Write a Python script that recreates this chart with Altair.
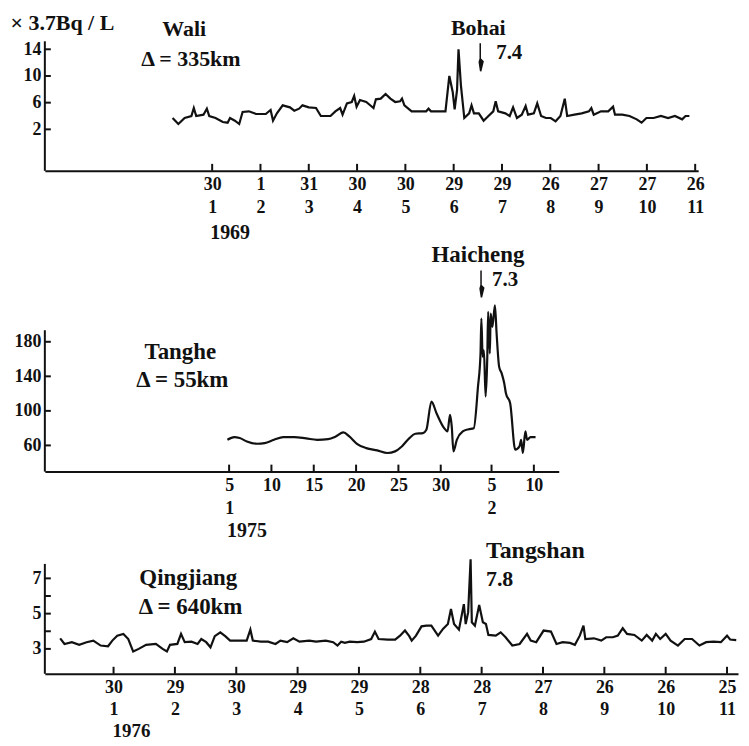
import altair as alt
import pandas as pd

FONT = "Liberation Serif"
BLACK = "#111111"

# ---------------- Panel 1: Wali, 1969 (x in month-tick units) ----------------
wali_x = [0.18, 0.30, 0.43, 0.57, 0.62, 0.67, 0.82, 0.89, 0.94, 1.07,
          1.22, 1.32, 1.37, 1.47, 1.56, 1.63, 1.76, 1.91, 2.11, 2.21,
          2.26, 2.34, 2.46, 2.61, 2.70, 2.80, 2.87, 3.00, 3.15, 3.25,
          3.45, 3.55, 3.65, 3.70, 3.79, 3.89, 3.94, 3.99, 4.06, 4.19,
          4.29, 4.34, 4.39, 4.49, 4.59, 4.69, 4.79, 4.89, 4.93, 4.98,
          5.13, 5.43, 5.48, 5.53, 5.83, 5.91, 5.98, 6.02, 6.07, 6.10,
          6.15, 6.22, 6.32, 6.37, 6.42, 6.52, 6.62, 6.72, 6.82, 6.87,
          6.92, 7.07, 7.16, 7.23, 7.31, 7.41, 7.49, 7.54, 7.66, 7.73,
          7.81, 7.91, 8.01, 8.11, 8.21, 8.30, 8.35, 8.50, 8.65, 8.80,
          8.85, 8.90, 9.05, 9.20, 9.30, 9.34, 9.49, 9.64, 9.79, 9.89,
          9.99, 10.14, 10.29, 10.44, 10.58, 10.73, 10.80, 10.88]
wali_v = [3.7, 2.8, 3.7, 4.0, 5.2, 4.0, 4.2, 5.1, 4.0, 3.7,
          3.1, 3.0, 3.7, 3.3, 2.8, 4.6, 4.7, 4.3, 4.3, 4.9,
          3.3, 4.4, 5.6, 5.3, 4.8, 5.1, 5.6, 5.3, 5.2, 4.0,
          4.0, 4.7, 5.2, 4.2, 5.9, 6.1, 7.0, 5.4, 6.4, 6.1,
          5.5, 5.2, 6.5, 6.6, 7.3, 6.6, 6.1, 6.2, 6.6, 5.6,
          4.7, 4.7, 5.1, 4.7, 4.7, 10.0, 7.6, 5.0, 7.9, 14.0,
          8.6, 3.7, 4.4, 5.6, 4.4, 4.4, 3.3, 4.0, 4.7, 6.2,
          4.7, 4.4, 4.0, 5.3, 3.7, 4.2, 5.5, 4.2, 4.4, 5.9,
          4.0, 3.7, 3.7, 3.2, 4.0, 6.6, 4.0, 4.2, 4.4, 4.7,
          5.2, 4.2, 4.7, 4.7, 5.4, 4.2, 4.2, 4.0, 3.5, 3.0,
          3.7, 3.7, 4.0, 3.7, 4.0, 3.5, 4.0, 4.0]
wali_ticks = [1, 2, 3, 4, 5, 6, 7, 8, 9, 10, 11]
wali_day = ["30", "1", "31", "30", "30", "29", "29", "26", "27", "27", "26"]
wali_month = ["1", "2", "3", "4", "5", "6", "7", "8", "9", "10", "11"]
wali_yticks = [2, 6, 10, 14]

# ---------------- Panel 2: Tanghe, 1975 (x in days from 1 Jan) ----------------
tanghe_x = [4.8, 5.6, 6.25, 7.1, 8.3, 9.2, 10.3, 11.4, 12.7, 14.1,
            15.4, 16.7, 17.6, 18.5, 19.2, 20.1, 21.2, 22.5, 23.7, 24.6,
            25.4, 26.3, 27.0, 27.9, 28.3, 28.9, 29.5, 30.4, 30.8, 31.1,
            31.3, 31.5, 31.9, 32.6, 33.3, 33.9, 34.4, 34.7, 34.8, 34.95,
            35.1, 35.3, 35.5, 35.6, 35.8, 35.9, 36.1, 36.4, 36.6, 36.9,
            37.2, 37.5, 37.7, 38.2, 38.8, 39.3, 39.5, 39.7, 40.0, 40.2,
            40.6, 41.2]
tanghe_v = [66.5, 69.6, 68.5, 64.6, 61.9, 62.7, 66.5, 69.6, 69.6, 68.1,
            66.5, 67.3, 70.4, 75.0, 70.4, 61.9, 56.9, 54.2, 51.2, 53.1,
            58.8, 68.5, 73.5, 74.2, 78.0, 110.8, 97.3, 80.0, 76.2, 95.4,
            82.0, 53.1, 66.5, 76.2, 78.8, 80.0, 128.0, 166.5, 206.9, 162.7,
            170.0, 116.5, 162.7, 214.6, 166.5, 212.7, 197.3, 222.3, 189.6, 151.0,
            143.5, 132.0, 120.4, 108.8, 55.0, 58.8, 66.5, 51.2, 76.2, 66.5,
            69.6, 69.6]
tanghe_ticks = [5, 10, 15, 20, 25, 30, 36, 41]
tanghe_day = ["5", "10", "15", "20", "25", "30", "5", "10"]
tanghe_month = ["1", "", "", "", "", "", "2", ""]
tanghe_yticks = [60, 100, 140, 180]

# ---------------- Panel 3: Qingjiang, 1976 (x in month-tick units) ----------------
qing_x = [0.13, 0.20, 0.32, 0.44, 0.56, 0.67, 0.79, 0.91, 0.98, 1.06,
          1.16, 1.24, 1.32, 1.41, 1.53, 1.69, 1.80, 1.87, 1.92, 2.04,
          2.10, 2.16, 2.27, 2.37, 2.43, 2.51, 2.58, 2.65, 2.74, 2.82,
          2.90, 3.05, 3.17, 3.23, 3.27, 3.40, 3.52, 3.64, 3.72, 3.83,
          3.93, 4.03, 4.19, 4.30, 4.46, 4.58, 4.65, 4.71, 4.77, 4.85,
          4.97, 5.08, 5.20, 5.26, 5.32, 5.47, 5.59, 5.67, 5.75, 5.82,
          5.86, 5.93, 6.02, 6.10, 6.18, 6.29, 6.37, 6.45, 6.50, 6.55,
          6.63, 6.71, 6.74, 6.78, 6.82, 6.84, 6.89, 6.96, 7.02, 7.07,
          7.11, 7.23, 7.31, 7.39, 7.50, 7.62, 7.74, 7.80, 7.89, 8.01,
          8.13, 8.22, 8.32, 8.44, 8.52, 8.60, 8.66, 8.69, 8.83, 8.95,
          9.03, 9.14, 9.22, 9.30, 9.37, 9.49, 9.61, 9.69, 9.78, 9.84,
          9.91, 10.00, 10.08, 10.20, 10.31, 10.43, 10.55, 10.66, 10.78, 10.90,
          11.00, 11.05, 11.15]
qing_v = [3.60, 3.28, 3.38, 3.23, 3.38, 3.47, 3.19, 3.15, 3.47, 3.75,
          3.85, 3.56, 2.85, 3.00, 3.23, 3.28, 3.00, 2.85, 3.23, 3.28,
          3.85, 3.38, 3.41, 3.28, 3.56, 3.38, 3.09, 3.72, 3.94, 3.72,
          3.47, 3.47, 3.47, 4.09, 3.47, 3.41, 3.41, 3.28, 3.47, 3.38,
          3.60, 3.41, 3.47, 3.41, 3.47, 3.38, 3.19, 3.41, 3.34, 3.41,
          3.38, 3.41, 3.56, 3.98, 3.56, 3.53, 3.53, 3.75, 4.04, 3.72,
          3.47, 3.75, 4.28, 4.32, 4.32, 3.75, 4.13, 4.41, 5.26, 4.41,
          4.09, 5.54, 4.41, 5.07, 8.08, 4.51, 4.32, 5.49, 4.51, 4.41,
          3.79, 3.75, 3.94, 3.66, 3.19, 3.28, 3.85, 3.47, 3.38, 4.04,
          3.98, 3.28, 3.38, 3.34, 3.23, 3.75, 4.32, 3.56, 3.60, 3.47,
          3.66, 3.66, 3.75, 4.17, 3.85, 3.79, 3.47, 3.79, 3.47, 3.85,
          3.56, 3.85, 3.47, 3.19, 3.56, 3.56, 3.19, 3.38, 3.41, 3.38,
          3.75, 3.53, 3.50]
qing_ticks = [1, 2, 3, 4, 5, 6, 7, 8, 9, 10, 11]
qing_day = ["30", "29", "30", "29", "29", "28", "28", "27", "26", "26", "25"]
qing_month = ["1", "2", "3", "4", "5", "6", "7", "8", "9", "10", "11"]
qing_yticks = [3, 4, 5, 6, 7]
qing_ylabels = [3, 5, 7]

ARROW = "M0,-1L0,0.25M0,0.1L0.2,0.3L0.03,1L-0.07,0.35Z"


def label_expr(vals, r1, r2):
    parts = []
    for v, a, b in zip(vals, r1, r2):
        if b:
            parts.append(f"datum.value == {v} ? ['{a}', '{b}']")
        else:
            parts.append(f"datum.value == {v} ? '{a}'")
    return " : ".join(parts) + " : ''"


def text_layer(text, x, y, xs, ys, size, align="center"):
    d = pd.DataFrame({"x": [x], "y": [y], "t": [text]})
    return alt.Chart(d).mark_text(
        font=FONT, fontWeight="bold", fontSize=size, align=align,
        baseline="middle", color=BLACK
    ).encode(x=alt.X("x:Q", scale=xs),
             y=alt.Y("y:Q", scale=ys),
             text="t:N")


def arrow_layer(x, y, xs, ys, length):
    d = pd.DataFrame({"x": [x], "y": [y]})
    return alt.Chart(d).mark_point(
        shape=ARROW, size=length * length, filled=True, fill=BLACK,
        stroke=BLACK, strokeWidth=1.5, opacity=1
    ).encode(x=alt.X("x:Q", scale=xs),
             y=alt.Y("y:Q", scale=ys))


def panel(xv, yv, xdom, ydom, W, H, xticks, r1, r2, yticks, ylabels,
          ytop, year, year_y, year_size=20, lh=23, interp="linear", title="",
          extra=()):
    xs = alt.Scale(domain=xdom, nice=False, zero=False)
    ys = alt.Scale(domain=ydom, nice=False, zero=False)
    df = pd.DataFrame({"x": xv, "v": yv})
    yaxis_kw = dict(values=ylabels, labelFont=FONT, labelFontSize=18,
                    labelFontWeight="bold", labelColor=BLACK, labelPadding=4,
                    ticks=False, domain=False, grid=False, title=title,
                    titleAngle=0, titleX=-35, titleY=11,
                    titleAlign="left", titleBaseline="middle", titleFont=FONT,
                    titleFontSize=22, titleFontWeight="bold", titleColor=BLACK)
    line = alt.Chart(df).mark_line(
        color=BLACK, strokeWidth=2.2, interpolate=interp
    ).encode(
        x=alt.X("x:Q", scale=xs, axis=alt.Axis(
            values=xticks, labelExpr=label_expr(xticks, r1, r2),
            labelFont=FONT, labelFontSize=18, labelFontWeight="bold",
            labelColor=BLACK, labelPadding=5, labelLineHeight=lh,
            labelOverlap=False, labelFlush=False, ticks=False,
            domain=True, domainColor=BLACK, domainWidth=2, grid=False, title="")),
        y=alt.Y("v:Q", scale=ys, axis=alt.Axis(**yaxis_kw)),
    )
    yline = alt.Chart(pd.DataFrame({"lo": [ydom[0]], "hi": [ytop]})).mark_rule(
        color=BLACK, strokeWidth=2
    ).encode(x=alt.value(0), y=alt.Y("lo:Q", scale=ys), y2="hi:Q")
    xt = alt.Chart(pd.DataFrame({"t": xticks})).mark_rule(
        color=BLACK, strokeWidth=2
    ).encode(x=alt.X("t:Q", scale=xs), y=alt.value(H), y2=alt.value(H - 7))
    yt = alt.Chart(pd.DataFrame({"t": yticks})).mark_rule(
        color=BLACK, strokeWidth=2
    ).encode(y=alt.Y("t:Q", scale=ys), x=alt.value(0), x2=alt.value(6))
    yr = alt.Chart(pd.DataFrame({"x": [xticks[0]], "t": [year]})).mark_text(
        font=FONT, fontWeight="bold", fontSize=year_size, align="center",
        baseline="middle", color=BLACK, dx=18
    ).encode(x=alt.X("x:Q", scale=xs), y=alt.value(year_y), text="t:N")
    layers = [line, yline, xt, yt, yr] + [f(xs, ys) for f in extra]
    return alt.layer(*layers).properties(width=W, height=H)


p1 = panel(
    wali_x, wali_v, [-2.464, 11.062], [-4.216, 19.664], 656, 160,
    wali_ticks, wali_day, wali_month, wali_yticks, wali_yticks, 15.2,
    "1969", 222, title="\u00d7 3.7Bq / L",
    extra=[
        lambda xs, ys: text_layer("Wali", 0.42, 16.98, xs, ys, 22),
        lambda xs, ys: text_layer("\u0394 = 335km", 0.56, 12.5, xs, ys, 22),
        lambda xs, ys: text_layer("Bohai", 6.51, 17.13, xs, ys, 22),
        lambda xs, ys: arrow_layer(6.55, 12.8, xs, ys, 28),
        lambda xs, ys: text_layer("7.4", 6.88, 13.4, xs, ys, 21, "left"),
    ])

p2 = panel(
    tanghe_x, tanghe_v, [-16.765, 43.94], [29.67, 297.25], 516, 232,
    tanghe_ticks, tanghe_day, tanghe_month, tanghe_yticks, tanghe_yticks, 193.4,
    "1975", 292, interp="monotone",
    extra=[
        lambda xs, ys: text_layer("Tanghe", -0.76, 168, xs, ys, 23),
        lambda xs, ys: text_layer("\u0394 = 55km", -0.53, 135.8, xs, ys, 23),
        lambda xs, ys: text_layer("Haicheng", 34.4, 280, xs, ys, 23),
        lambda xs, ys: arrow_layer(34.76, 247, xs, ys, 27),
        lambda xs, ys: text_layer("7.3", 36.06, 251, xs, ys, 21, "left"),
    ])

p3 = panel(
    qing_x, qing_v, [-0.120, 11.179], [1.588, 9.102], 696, 133,
    qing_ticks, qing_day, qing_month, qing_yticks, qing_ylabels, 7.82,
    "1976", 190, year_size=19, lh=22,
    extra=[
        lambda xs, ys: text_layer("Qingjiang", 1.42, 7.01, xs, ys, 23, "left"),
        lambda xs, ys: text_layer("\u0394 = 640km", 1.41, 5.37, xs, ys, 23, "left"),
        lambda xs, ys: text_layer("Tangshan", 7.07, 8.54, xs, ys, 24, "left"),
        lambda xs, ys: text_layer("7.8", 7.07, 6.95, xs, ys, 22, "left"),
    ])

chart = alt.vconcat(p1, p2, p3, spacing=70, bounds="flush").properties(
    padding={"left": 2, "top": 2, "right": 0, "bottom": 0},
    background="white",
).configure_view(strokeWidth=0)

chart.save("out.html", embed_options={"renderer": "svg", "actions": False})
